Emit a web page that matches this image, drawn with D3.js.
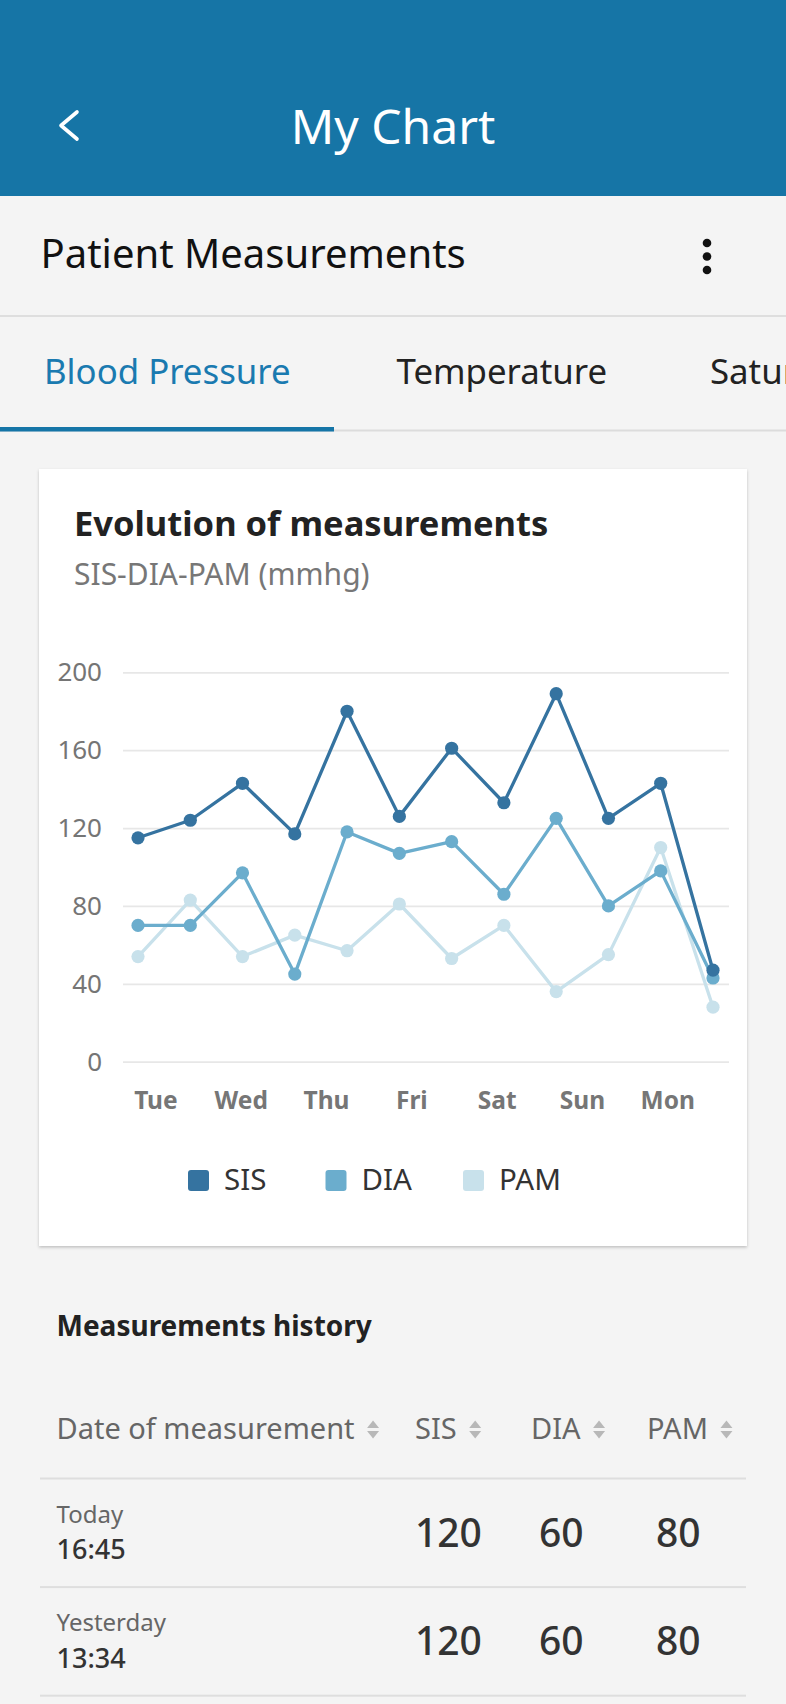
<!DOCTYPE html>
<html>
<head>
<meta charset="utf-8">
<script src="https://cdn.jsdelivr.net/npm/d3@7"></script>
<style>
  html, body { margin: 0; padding: 0; background: #f4f4f4; }
  svg { display: block; font-family: "Noto Sans", sans-serif; }
</style>
</head>
<body>
<svg id="page" width="786" height="1704"></svg>
<script>
// Mätvärden (läst ur bilden)
const readingTimes = [
  "2023-05-01 19:06", "2023-05-02 09:49", "2023-05-03 00:30", "2023-05-03 15:13",
  "2023-05-04 05:55", "2023-05-04 20:38", "2023-05-05 11:21", "2023-05-06 02:03",
  "2023-05-06 16:46", "2023-05-07 07:28", "2023-05-07 22:10", "2023-05-08 12:53"
];
const sisValues = [115, 124, 143, 117, 180, 126, 161, 133, 189, 125, 143, 47];
const diaValues = [70, 70, 97, 45, 118, 107, 113, 86, 125, 80, 98, 43];
const pamValues = [54, 83, 54, 65, 57, 81, 53, 70, 36, 55, 110, 28];
const seriesNames = ["SIS", "DIA", "PAM"];
const seriesColors = ["#3573a0", "#6badcd", "#c8e1eb"];
const yTicks = [0, 40, 80, 120, 160, 200];

const tabLabels = ["Blood Pressure", "Temperature", "Saturation"];
const tableHeaders = ["Date of measurement", "SIS", "DIA", "PAM"];
const historyDays = ["Today", "Yesterday"];
const historyTimes = ["16:45", "13:34"];
const historySis = [120, 120];
const historyDia = [60, 60];
const historyPam = [80, 80];

const svg = d3.select("#page");
const parseTime = d3.timeParse("%Y-%m-%d %H:%M");
const times = readingTimes.map(parseTime);
const series = [sisValues, diaValues, pamValues].map((vals, s) => ({
  name: seriesNames[s],
  color: seriesColors[s],
  points: vals.map((v, i) => ({ t: times[i], v }))
}));

const defs = svg.append("defs");
const shadow = defs.append("filter").attr("id", "cardShadow")
  .attr("x", "-5%").attr("y", "-5%").attr("width", "110%").attr("height", "110%");
shadow.append("feDropShadow")
  .attr("dx", 0).attr("dy", 1.5).attr("stdDeviation", 1.5)
  .attr("flood-color", "#000").attr("flood-opacity", 0.22);

// Sidhuvud
svg.append("rect").attr("x", 0).attr("y", 0).attr("width", 786).attr("height", 196)
  .attr("fill", "#1675a6");
svg.append("polyline")
  .attr("points", "77,112 61,125.5 77,139")
  .attr("fill", "none").attr("stroke", "#fff").attr("stroke-width", 3.6)
  .attr("stroke-linecap", "round").attr("stroke-linejoin", "round");
svg.append("text").attr("x", 393).attr("y", 144).attr("text-anchor", "middle")
  .attr("fill", "#fff").style("font-size", "48px").text("My Chart");

svg.append("text").attr("x", 40.5).attr("y", 268)
  .attr("fill", "#111").style("font-size", "40px").text("Patient Measurements");
svg.selectAll("circle.menu-dot").data([243, 256.5, 270]).enter().append("circle")
  .attr("class", "menu-dot").attr("cx", 707).attr("cy", d => d).attr("r", 4.3)
  .attr("fill", "#111");
svg.append("rect").attr("x", 0).attr("y", 315).attr("width", 786).attr("height", 2)
  .attr("fill", "#dedede");

// Flikar (den sista skärs av vid kanten, som i appen)
const tabX = [44, 396.5, 710];
svg.selectAll("text.tab").data(tabLabels).enter().append("text")
  .attr("class", "tab").attr("x", (d, i) => tabX[i]).attr("y", 384)
  .attr("fill", (d, i) => i === 0 ? "#1a7ab0" : "#222")
  .style("font-size", "34.8px").text(d => d);
svg.append("rect").attr("x", 0).attr("y", 429.5).attr("width", 786).attr("height", 2)
  .attr("fill", "#dcdcdc");
svg.append("rect").attr("x", 0).attr("y", 427).attr("width", 334).attr("height", 4.5)
  .attr("fill", "#1575a7");

// Kort
svg.append("rect").attr("x", 39).attr("y", 469).attr("width", 708).attr("height", 777)
  .attr("fill", "#fff").attr("filter", "url(#cardShadow)");
svg.append("text").attr("x", 74).attr("y", 536).attr("fill", "#222")
  .style("font-size", "34.5px").style("font-weight", "700").text("Evolution of measurements");
svg.append("text").attr("x", 74).attr("y", 585).attr("fill", "#777")
  .style("font-size", "30px").text("SIS-DIA-PAM (mmhg)");

// Skalor
const x = d3.scaleTime().domain(d3.extent(times)).range([138, 713]);
const y = d3.scaleLinear().domain([0, 200]).range([1061.7, 672.3]);

const gridX0 = 123, gridX1 = 729;
const yAxis = svg.append("g").attr("transform", `translate(${gridX0},0)`)
  .call(d3.axisLeft(y).tickValues(yTicks).tickSize(-(gridX1 - gridX0)).tickPadding(21));
yAxis.select(".domain").remove();
yAxis.selectAll(".tick line").attr("stroke", "#e7e7e7").attr("stroke-width", 1.8);
yAxis.selectAll(".tick text").attr("fill", "#757575")
  .style("font-size", "26px").style("font-family", "'Noto Sans', sans-serif");

const xAxis = svg.append("g").attr("transform", `translate(0,${y(0)})`)
  .call(d3.axisBottom(x).ticks(d3.timeDay.every(1)).tickFormat(d3.timeFormat("%a")).tickSize(0));
xAxis.select(".domain").remove();
xAxis.selectAll(".tick text").attr("y", 47).attr("dy", null).attr("fill", "#767676")
  .style("font-size", "24.5px").style("font-weight", "700")
  .style("font-family", "'Noto Sans', sans-serif");

// Linjer och punkter, ljusast först
const line = d3.line().x(d => x(d.t)).y(d => y(d.v));
const drawOrder = series.slice().reverse();
const gSeries = svg.selectAll("g.series").data(drawOrder).enter().append("g").attr("class", "series");
gSeries.append("path")
  .attr("d", d => line(d.points))
  .attr("fill", "none").attr("stroke", d => d.color).attr("stroke-width", 3.3)
  .attr("stroke-linejoin", "round");
gSeries.each(function (s) {
  d3.select(this).selectAll("circle").data(s.points).enter().append("circle")
    .attr("cx", d => x(d.t)).attr("cy", d => y(d.v)).attr("r", 6.6)
    .attr("fill", s.color);
});

// Förklaring
const legend = svg.selectAll("g.legend").data(series).enter().append("g")
  .attr("class", "legend")
  .attr("transform", (d, i) => `translate(${188 + i * 137.5},1170)`);
legend.append("rect").attr("width", 21).attr("height", 21).attr("rx", 3)
  .attr("fill", d => d.color);
legend.append("text").attr("x", 36).attr("y", 20).attr("fill", "#333")
  .style("font-size", "29.5px").text(d => d.name);

// Historiktabell
svg.append("text").attr("x", 56.5).attr("y", 1336).attr("fill", "#222")
  .style("font-size", "28px").style("font-weight", "700").text("Measurements history");

const headerX = [56.5, 415, 531, 647];
const headers = svg.selectAll("g.th").data(tableHeaders).enter().append("g").attr("class", "th");
headers.append("text").attr("x", (d, i) => headerX[i]).attr("y", 1439)
  .attr("fill", "#666").style("font-size", "29px").text(d => d);
headers.each(function (d, i) {
  const g = d3.select(this);
  const end = headerX[i] + g.select("text").node().getComputedTextLength();
  const cx = end + 18.5;
  g.append("path").attr("d", `M${cx - 6},1428 L${cx},1420.5 L${cx + 6},1428 Z`).attr("fill", "#b8b8b8");
  g.append("path").attr("d", `M${cx - 6},1431 L${cx},1438.5 L${cx + 6},1431 Z`).attr("fill", "#b8b8b8");
});

const rowY0 = 1478.5, rowH = 108.6;
svg.selectAll("rect.row-line").data([0, 1, 2]).enter().append("rect")
  .attr("class", "row-line").attr("x", 40).attr("width", 706)
  .attr("y", d => rowY0 + d * rowH - 1).attr("height", 2).attr("fill", "#dedede");

const rows = historyDays.map((day, i) => ({
  day, time: historyTimes[i], vals: [historySis[i], historyDia[i], historyPam[i]]
}));
const valueX = [415, 539, 656];
const gRows = svg.selectAll("g.row").data(rows).enter().append("g")
  .attr("class", "row").attr("transform", (d, i) => `translate(0,${rowY0 + i * rowH})`);
gRows.append("text").attr("x", 56.5).attr("y", 44).attr("fill", "#666")
  .style("font-size", "24px").text(d => d.day);
gRows.append("text").attr("x", 56.5).attr("y", 80.5).attr("fill", "#333")
  .style("font-size", "27px").style("font-weight", "500").text(d => d.time);
gRows.selectAll("text.val").data(d => d.vals).enter().append("text")
  .attr("class", "val").attr("x", (d, i) => valueX[i]).attr("y", 68)
  .attr("fill", "#333").style("font-size", "39px").style("font-weight", "500").text(d => d);
</script>
</body>
</html>
